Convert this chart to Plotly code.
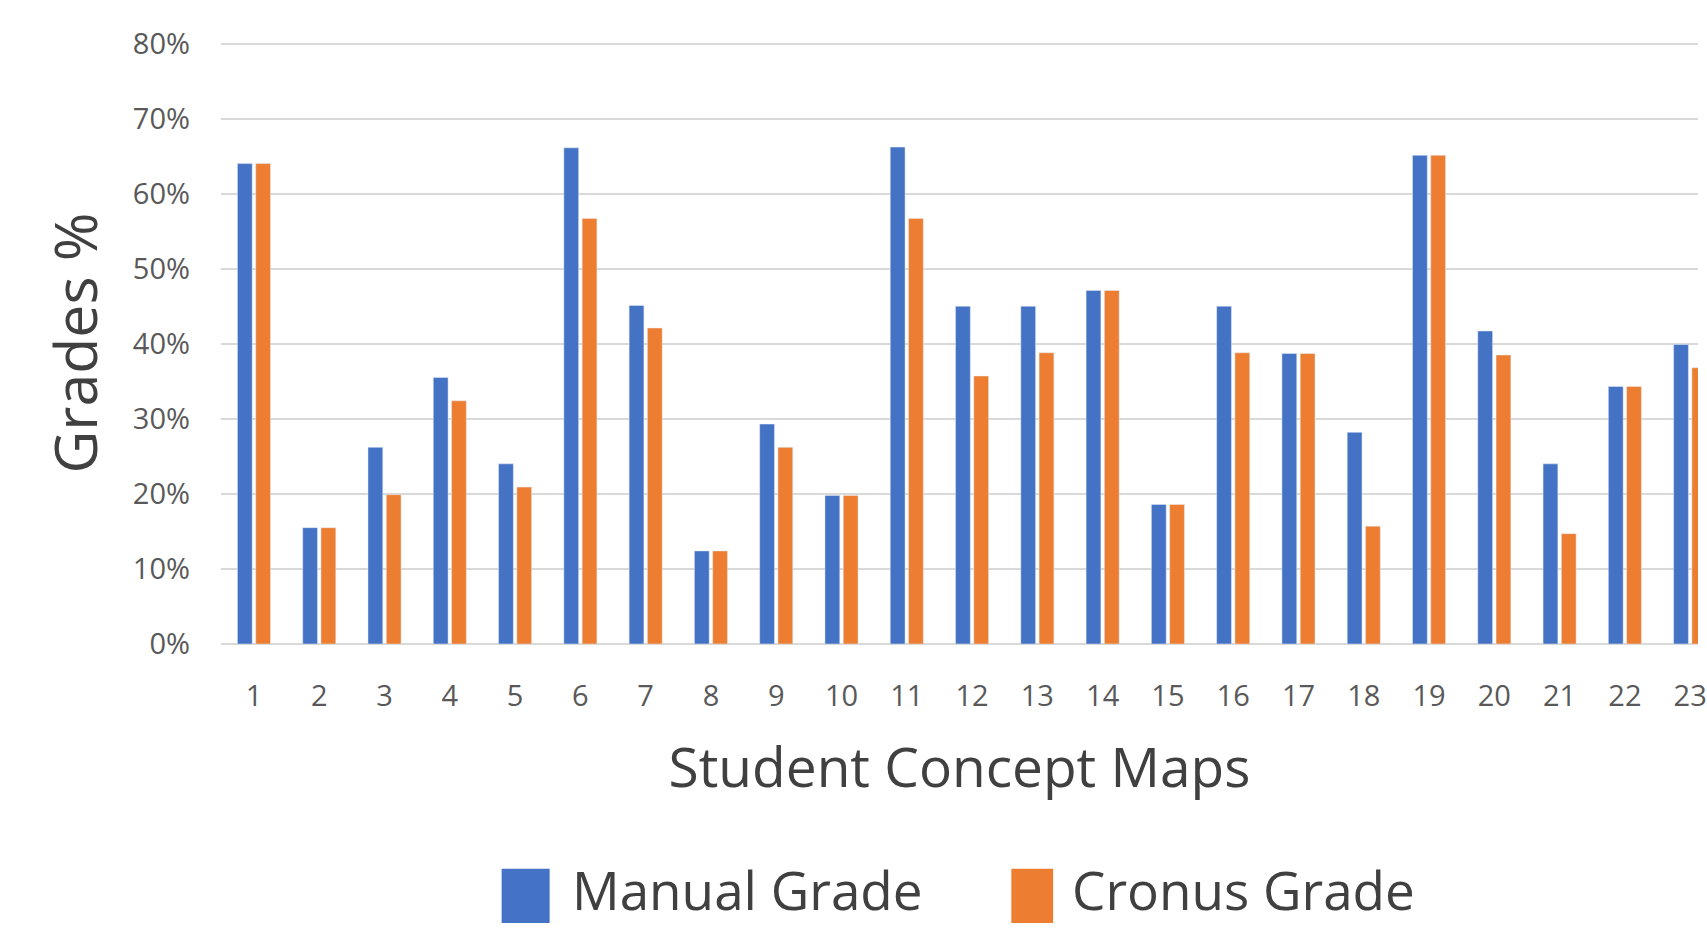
import plotly.graph_objects as go

categories = [str(i) for i in range(1, 24)]
manual_grade = [0.64, 0.155, 0.262, 0.355, 0.24, 0.661, 0.451, 0.124, 0.293, 0.198,
                0.662, 0.45, 0.45, 0.471, 0.186, 0.45, 0.387, 0.282, 0.651, 0.417,
                0.24, 0.343, 0.399]
cronus_grade = [0.64, 0.155, 0.199, 0.324, 0.209, 0.567, 0.421, 0.124, 0.262, 0.198,
                0.567, 0.357, 0.388, 0.471, 0.186, 0.388, 0.387, 0.157, 0.651, 0.385,
                0.147, 0.343, 0.368]
series_names = ["Manual Grade", "Cronus Grade"]
colors = ["#4472C4", "#ED7D31"]

FONT = "Open Sans"

fig = go.Figure()
fig.add_trace(go.Bar(x=categories, y=manual_grade, name=series_names[0],
                     marker_color=colors[0], showlegend=False))
fig.add_trace(go.Bar(x=categories, y=cronus_grade, name=series_names[1],
                     marker_color=colors[1], showlegend=False))

fig.update_layout(
    width=1707, height=928,
    margin=dict(l=221, r=0, t=42, b=284, pad=0),
    plot_bgcolor="white", paper_bgcolor="white",
    barmode="group", bargap=0.44, bargroupgap=0.19,
    font=dict(family=FONT, color="#595959"),
)
fig.update_xaxes(
    type="category", range=[-0.505, 22.12],
    showgrid=False, showline=False, zeroline=False,
    tickfont=dict(size=29, color="#595959"), ticklabelstandoff=32,
    title=dict(text="Student Concept Maps", font=dict(size=55, color="#404040"), standoff=35),
)
fig.update_yaxes(
    range=[0, 0.802], tickvals=[0, 0.1, 0.2, 0.3, 0.4, 0.5, 0.6, 0.7, 0.8], tickformat=".0%",
    showgrid=True, gridcolor="#D9D9D9", gridwidth=2,
    zeroline=True, zerolinecolor="#D9D9D9", zerolinewidth=2,
    showline=False,
    tickfont=dict(size=29, color="#595959"), ticklabelstandoff=30,
    title=dict(text="Grades %", font=dict(size=59, color="#404040"), standoff=16),
)

# custom legend (large swatches as in the reference)
legend_items = [
    (0.190, 0.2225, 0.236, series_names[0], colors[0]),
    (0.5351, 0.5634, 0.575, series_names[1], colors[1]),
]
for x0, x1, xt, name, col in legend_items:
    fig.add_shape(type="rect", xref="paper", yref="paper", x0=x0, x1=x1,
                  y0=-0.4634, y1=-0.3735, fillcolor=col, line=dict(width=0))
    fig.add_annotation(xref="paper", yref="paper", x=xt, y=-0.408, text=name,
                       showarrow=False, xanchor="left", yanchor="middle",
                       font=dict(size=53, color="#404040", family=FONT))

fig.write_html("out.html", config={"displayModeBar": False},
               post_script="document.body.style.margin='0';document.body.style.overflow='hidden';")
